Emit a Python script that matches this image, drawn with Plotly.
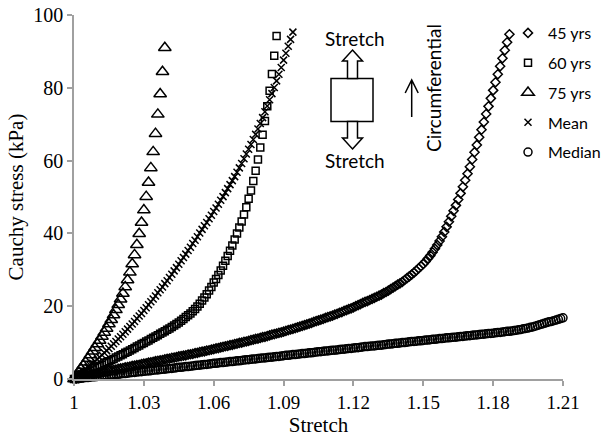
import plotly.graph_objects as go

# ---------------- data (stress in kPa, sampled every 0.001 of stretch) ----------------
stretch_start = 1.0
stretch_step = 0.001

stress_45 = [
    0.0, 0.2, 0.3, 0.5, 0.6, 0.8, 1.0, 1.1, 1.3, 1.4, 1.6,
    1.7, 1.9, 2.0, 2.1, 2.3, 2.4, 2.5, 2.6, 2.8, 2.9,
    3.0, 3.2, 3.3, 3.4, 3.6, 3.7, 3.8, 3.9, 4.1, 4.2,
    4.3, 4.5, 4.6, 4.7, 4.9, 5.0, 5.1, 5.2, 5.4, 5.5,
    5.6, 5.8, 5.9, 6.0, 6.2, 6.3, 6.4, 6.5, 6.7, 6.8,
    6.9, 7.1, 7.2, 7.4, 7.5, 7.6, 7.8, 7.9, 8.1, 8.2,
    8.4, 8.5, 8.7, 8.8, 9.0, 9.1, 9.3, 9.4, 9.6, 9.7,
    9.9, 10.0, 10.2, 10.3, 10.5, 10.7, 10.8, 11.0, 11.1, 11.3,
    11.5, 11.6, 11.8, 12.0, 12.2, 12.3, 12.5, 12.7, 12.8, 13.0,
    13.2, 13.4, 13.6, 13.8, 14.0, 14.2, 14.4, 14.6, 14.8, 15.0,
    15.2, 15.4, 15.7, 15.9, 16.1, 16.3, 16.5, 16.8, 17.0, 17.2,
    17.4, 17.7, 17.9, 18.2, 18.4, 18.7, 18.9, 19.2, 19.4, 19.7,
    20.0, 20.3, 20.6, 20.9, 21.2, 21.4, 21.7, 22.0, 22.3, 22.6,
    22.9, 23.2, 23.6, 23.9, 24.3, 24.7, 25.1, 25.5, 25.9, 26.3,
    26.7, 27.2, 27.7, 28.2, 28.7, 29.2, 29.8, 30.4, 31.0, 31.6,
    32.3, 33.1, 33.9, 34.8, 35.8, 36.8, 37.9, 39.1, 40.4, 41.8,
    43.2, 44.7, 46.2, 47.7, 49.3, 51.0, 52.8, 54.6, 56.4, 58.3,
    60.3, 62.3, 64.3, 66.4, 68.5, 70.6, 72.8, 74.9, 77.1, 79.3,
    81.5, 83.7, 85.9, 88.1, 90.3, 92.5, 94.7,
]

stress_60 = [
    0.0, 0.3, 0.7, 1.0, 1.3, 1.7, 2.0, 2.3, 2.6, 3.0, 3.3,
    3.6, 3.9, 4.3, 4.6, 4.9, 5.2, 5.5, 5.9, 6.2, 6.5,
    6.8, 7.2, 7.5, 7.8, 8.2, 8.5, 8.9, 9.2, 9.6, 9.9,
    10.3, 10.6, 11.0, 11.3, 11.7, 12.0, 12.4, 12.8, 13.1, 13.5,
    13.9, 14.3, 14.7, 15.1, 15.5, 16.0, 16.5, 17.0, 17.5, 18.0,
    18.6, 19.2, 19.9, 20.7, 21.6, 22.4, 23.3, 24.3, 25.3, 26.5,
    27.5, 28.6, 29.8, 31.1, 32.5, 33.8, 35.2, 36.7, 38.3, 40.0,
    41.6, 43.3, 45.2, 47.2, 49.5, 51.8, 54.4, 57.2, 60.3, 63.6,
    67.1, 70.9, 74.9, 79.2, 83.8, 88.8, 94.2,
]

stress_75 = [
    0.0, 0.9, 1.8, 2.8, 3.7, 4.6, 5.6, 6.6, 7.6, 8.6, 9.6,
    10.6, 11.7, 12.8, 13.9, 15.1, 16.3, 17.6, 19.0, 20.4, 21.9,
    23.5, 25.3, 27.2, 29.3, 31.6, 34.1, 36.9, 39.9, 43.0, 46.4,
    50.1, 54.0, 58.0, 62.4, 67.4, 72.7, 78.3, 84.4, 91.0,
]

stress_mean = [
    0.0, 0.5, 1.0, 1.6, 2.1, 2.7, 3.2, 3.8, 4.3, 4.9, 5.4,
    6.0, 6.6, 7.2, 7.8, 8.4, 9.0, 9.7, 10.3, 11.0, 11.6,
    12.3, 13.0, 13.7, 14.4, 15.1, 15.8, 16.6, 17.3, 18.0, 18.8,
    19.6, 20.4, 21.2, 22.0, 22.8, 23.7, 24.5, 25.3, 26.2, 27.0,
    27.9, 28.8, 29.7, 30.6, 31.5, 32.5, 33.4, 34.3, 35.3, 36.2,
    37.2, 38.1, 39.1, 40.1, 41.1, 42.1, 43.0, 44.0, 45.0, 46.0,
    47.0, 48.0, 49.1, 50.1, 51.2, 52.3, 53.4, 54.5, 55.6, 56.8,
    58.0, 59.2, 60.5, 61.8, 63.1, 64.4, 65.8, 67.2, 68.7, 70.2,
    71.8, 73.4, 75.0, 76.7, 78.4, 80.1, 81.9, 83.7, 85.6, 87.6,
    89.5, 91.4, 93.3, 95.3,
]

stress_median = [
    0.0, 0.1, 0.1, 0.2, 0.3, 0.4, 0.4, 0.5, 0.6, 0.6, 0.7,
    0.8, 0.8, 0.9, 1.0, 1.1, 1.1, 1.2, 1.3, 1.3, 1.4,
    1.5, 1.5, 1.6, 1.7, 1.8, 1.8, 1.9, 2.0, 2.0, 2.1,
    2.2, 2.2, 2.3, 2.4, 2.5, 2.5, 2.6, 2.7, 2.7, 2.8,
    2.9, 2.9, 3.0, 3.1, 3.2, 3.2, 3.3, 3.4, 3.4, 3.5,
    3.6, 3.7, 3.8, 3.8, 3.9, 4.0, 4.0, 4.1, 4.2, 4.3,
    4.3, 4.4, 4.5, 4.5, 4.6, 4.7, 4.8, 4.8, 4.9, 5.0,
    5.0, 5.1, 5.2, 5.3, 5.3, 5.4, 5.5, 5.5, 5.6, 5.7,
    5.8, 5.8, 5.9, 6.0, 6.0, 6.1, 6.2, 6.2, 6.3, 6.4,
    6.5, 6.5, 6.6, 6.7, 6.7, 6.8, 6.9, 7.0, 7.0, 7.1,
    7.2, 7.2, 7.3, 7.4, 7.5, 7.5, 7.6, 7.7, 7.7, 7.8,
    7.9, 7.9, 8.0, 8.1, 8.2, 8.2, 8.3, 8.4, 8.4, 8.5,
    8.6, 8.6, 8.7, 8.8, 8.9, 8.9, 9.0, 9.1, 9.1, 9.2,
    9.3, 9.3, 9.4, 9.5, 9.6, 9.6, 9.7, 9.8, 9.8, 9.9,
    10.0, 10.0, 10.1, 10.2, 10.3, 10.3, 10.4, 10.5, 10.5, 10.6,
    10.7, 10.7, 10.8, 10.9, 10.9, 11.0, 11.1, 11.1, 11.2, 11.3,
    11.3, 11.4, 11.5, 11.5, 11.6, 11.7, 11.7, 11.8, 11.9, 11.9,
    12.0, 12.1, 12.1, 12.2, 12.3, 12.3, 12.4, 12.5, 12.5, 12.6,
    12.7, 12.8, 12.8, 12.9, 13.0, 13.1, 13.1, 13.2, 13.3, 13.4,
    13.5, 13.6, 13.8, 13.9, 14.0, 14.2, 14.3, 14.5, 14.7, 14.9,
    15.1, 15.3, 15.5, 15.7, 15.8, 16.0, 16.2, 16.4, 16.6, 16.8,
]

series_names = ["45 yrs", "60 yrs", "75 yrs", "Mean", "Median"]
x_tick_values = [1.0, 1.03, 1.06, 1.09, 1.12, 1.15, 1.18, 1.21]
x_tick_labels = ["1", "1.03", "1.06", "1.09", "1.12", "1.15", "1.18", "1.21"]
y_tick_values = [0, 20, 40, 60, 80, 100]


def stretch_axis(values):
    return [round(stretch_start + i * stretch_step, 3) for i in range(len(values))]


# ---------------- layout geometry (screenshot pixels) ----------------
W, H = 608, 445
PLOT_L, PLOT_R, PLOT_T, PLOT_B = 74, 563, 15, 379
ML, MT, MR, MB = PLOT_L, PLOT_T, W - PLOT_R, H - PLOT_B
PW, PH = PLOT_R - PLOT_L, PLOT_B - PLOT_T

SANS = "Lato"
SERIF = "Liberation Serif"
AXIS_GREY = "#a0a0a0"


def px(x):
    return (x - PLOT_L) / PW


def py(y):
    return (PLOT_B - y) / PH


styles = [
    dict(symbol="diamond-open", size=7),
    dict(symbol="square-open", size=7),
    dict(symbol="triangle-up-open", size=11),
    dict(symbol="x-thin-open", size=7),
    dict(symbol="circle-open", size=8),
]
series_values = [stress_45, stress_60, stress_75, stress_mean, stress_median]

fig = go.Figure()
for name, vals, st in zip(series_names, series_values, styles):
    fig.add_trace(go.Scatter(
        x=stretch_axis(vals), y=vals, name=name, mode="markers",
        legendgroup=name, cliponaxis=False,
        marker=dict(symbol=st["symbol"], size=st["size"], color="black",
                    line=dict(color="black", width=1.5)),
    ))


def poly(points):
    return "M " + " L ".join(f"{px(a):.5f},{py(b):.5f}" for a, b in points) + " Z"


shapes = []
shapes.append(dict(type="rect", xref="paper", yref="paper",
                   x0=px(331), x1=px(373), y0=py(78.5), y1=py(121.5),
                   line=dict(color="black", width=1.5), fillcolor="white"))
cx = 352.5
up = [(cx, 50), (cx + 10, 61), (cx + 5, 61), (cx + 5, 78.5), (cx - 5, 78.5), (cx - 5, 61), (cx - 10, 61)]
down = [(cx, 149), (cx + 10, 138), (cx + 5, 138), (cx + 5, 121.5), (cx - 5, 121.5), (cx - 5, 138), (cx - 10, 138)]
for pts in (up, down):
    shapes.append(dict(type="path", xref="paper", yref="paper", path=poly(pts),
                       line=dict(color="black", width=1.5), fillcolor="white"))
ax = 411.7
shapes.append(dict(type="path", xref="paper", yref="paper",
                   path=f"M {px(ax):.5f},{py(117):.5f} L {px(ax):.5f},{py(80):.5f} "
                        f"M {px(ax-6.5):.5f},{py(93):.5f} L {px(ax):.5f},{py(80):.5f} L {px(ax+6.5):.5f},{py(93):.5f}",
                   line=dict(color="black", width=1.5)))

annotations = [
    dict(text="Stretch", x=px(355), y=py(38), xref="paper", yref="paper",
         xanchor="center", yanchor="middle", showarrow=False,
         font=dict(family=SANS, size=19, color="black")),
    dict(text="Stretch", x=px(355), y=py(160), xref="paper", yref="paper",
         xanchor="center", yanchor="middle", showarrow=False,
         font=dict(family=SANS, size=19, color="black")),
    dict(text="Circumferential", x=px(434), y=py(88), xref="paper", yref="paper",
         xanchor="center", yanchor="middle", showarrow=False, textangle=-90,
         font=dict(family=SANS, size=19, color="black")),
]

fig.update_layout(
    width=W, height=H,
    margin=dict(l=ML, r=MR, t=MT, b=MB, pad=0, autoexpand=False),
    paper_bgcolor="white", plot_bgcolor="white",
    showlegend=True,
    legend=dict(x=px(508), y=py(16), xanchor="left", yanchor="top",
                bgcolor="rgba(0,0,0,0)", font=dict(family=SANS, size=16, color="black"),
                tracegroupgap=6, itemsizing="trace"),
    shapes=shapes, annotations=annotations,
    xaxis=dict(range=[1.0, 1.21], tickvals=x_tick_values, ticktext=x_tick_labels,
               showgrid=False, zeroline=False, showline=True, linecolor=AXIS_GREY, linewidth=1.5,
               ticks="outside", ticklen=5, tickcolor=AXIS_GREY, tickwidth=1.5,
               ticklabeloverflow="allow",
               tickfont=dict(family=SERIF, size=19, color="black"),
               title=dict(text="Stretch", font=dict(family=SERIF, size=21, color="black"), standoff=6)),
    yaxis=dict(range=[0, 100], tickvals=y_tick_values,
               showgrid=False, zeroline=False, showline=True, linecolor=AXIS_GREY, linewidth=1.5,
               ticks="outside", ticklen=5, tickcolor=AXIS_GREY, tickwidth=1.5,
               ticklabeloverflow="allow",
               tickfont=dict(family=SERIF, size=20, color="black"),
               title=dict(text="Cauchy stress (kPa)", font=dict(family=SERIF, size=21, color="black"), standoff=4)),
)

# remove the default 8px page margin so the figure fills the 608x445 window exactly
fig.write_html("out.html", config={"displayModeBar": False},
               post_script="document.body.style.margin='0';")
